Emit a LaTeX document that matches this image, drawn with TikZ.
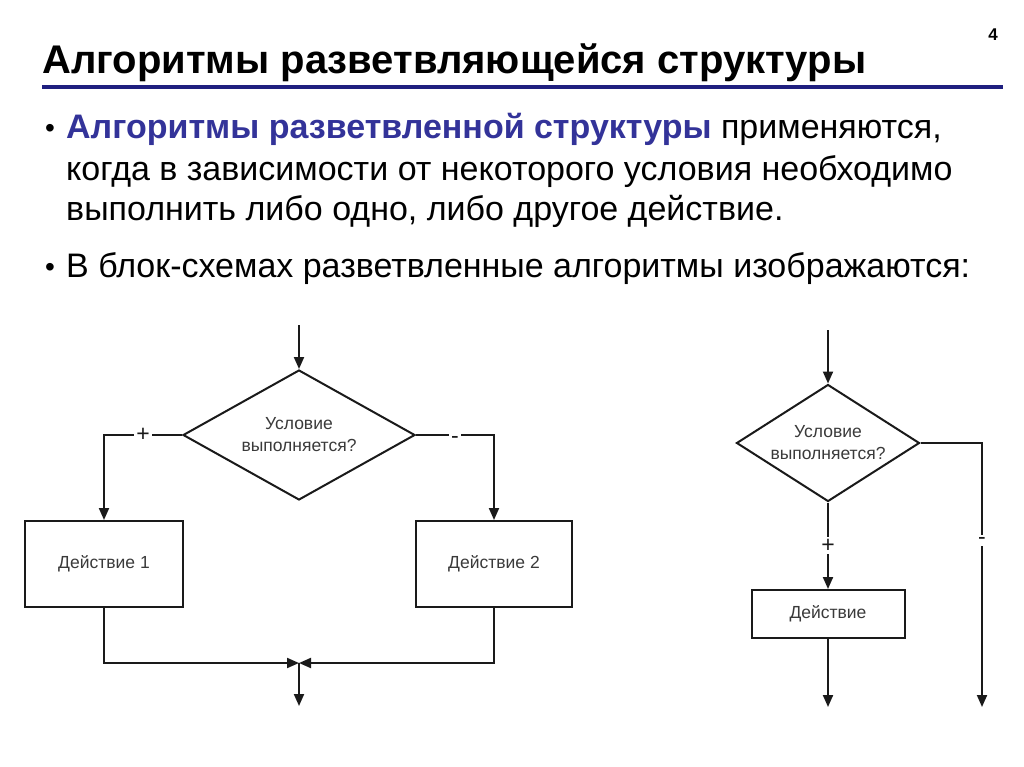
\documentclass[tikz,border=0pt]{standalone}
\usepackage{fontspec}
\setmainfont{Liberation Sans}
\usetikzlibrary{shapes.geometric,arrows.meta}
\definecolor{navy}{HTML}{1F1F7F}
\definecolor{bluetxt}{HTML}{333399}
\definecolor{ink}{HTML}{1A1A1A}
\definecolor{gtxt}{HTML}{3A3A3A}
\begin{document}
\begin{tikzpicture}[x=1pt,y=-1pt,
  flow/.style={line width=2pt, draw=ink},
  arr/.style={flow, -{Triangle[length=12pt,width=10pt]}},
  dec/.style={diamond, draw=ink, line width=2pt, inner sep=0pt, align=center, font=\fontsize{17.5}{22}\selectfont, text=gtxt},
  act/.style={rectangle, draw=ink, line width=2pt, inner sep=0pt, font=\fontsize{17.5}{20}\selectfont, text=gtxt},
  sign/.style={fill=white, inner sep=2pt, font=\fontsize{23}{23}\selectfont, text=ink},
  body/.style={anchor=base west, inner sep=0pt, font=\fontsize{34}{40}\selectfont, text=black},
  bul/.style={anchor=base west, inner sep=0pt, font=\fontsize{28}{40}\selectfont, text=black},
]
\useasboundingbox[fill=white] (0,0) rectangle (1024,767);
% title
\node[anchor=base west, inner sep=0pt, font=\fontsize{40}{48}\selectfont\bfseries] (title) at (42,74) {Алгоритмы разветвляющейся структуры};
\draw[navy, line width=3.5pt] (42,87) -- (1003,87);
\node[anchor=base east, inner sep=0pt, font=\fontsize{17}{20}\selectfont\bfseries] (pnum) at (998,41) {4};
% body text
\node[bul] (bul1) at (45,138) {•};
\node[body] (l1) at (66,139) {\textcolor{bluetxt}{\bfseries Алгоритмы разветвленной структуры} применяются,};
\node[body] (l2) at (66,181) {когда в зависимости от некоторого условия необходимо};
\node[body] (l3) at (66,221) {выполнить либо одно, либо другое действие.};
\node[bul] (bul2) at (45,276) {•};
\node[body] (l4) at (66,277) {В блок-схемах разветвленные алгоритмы изображаются:};
% left flowchart
\node[dec, shape aspect=1.85, minimum width=232pt, minimum height=130pt] (d1) at (299,435) {Условие\\выполняется?};
\node[act, minimum width=158pt, minimum height=86pt] (b1) at (104,564) {Действие 1};
\node[act, minimum width=156pt, minimum height=86pt] (b2) at (494,564) {Действие 2};
\coordinate (in1) at (299,325);
\coordinate (m1) at (299,663);
\coordinate (out1) at (299,706);
\draw[arr] (in1) -- (d1.north);
\draw[arr] (d1.west) -- node[sign]{+} (d1.west -| b1.north) -- (b1.north);
\draw[arr] (d1.east) -- node[sign, yshift=-5pt]{-} (d1.east -| b2.north) -- (b2.north);
\draw[arr] (b1.south) |- (m1);
\draw[arr] (b2.south) |- (m1);
\draw[arr] (m1) -- (out1);
% right flowchart
\node[dec, shape aspect=1.6, minimum width=183pt, minimum height=117pt] (d2) at (828,443) {Условие\\выполняется?};
\node[act, minimum width=153pt, minimum height=48pt] (b3) at (828,614) {Действие};
\coordinate (in2) at (828,330);
\coordinate (c2) at (982,443);
\coordinate (out3) at (828,707);
\coordinate (out4) at (982,707);
\draw[arr] (in2) -- (d2.north);
\draw[arr] (d2.south) -- node[sign]{+} (b3.north);
\draw[arr] (b3.south) -- (out3);
\draw[arr] (d2.east) -- (c2) -- node[sign,pos=0.37]{-} (out4);
\end{tikzpicture}
\end{document}
